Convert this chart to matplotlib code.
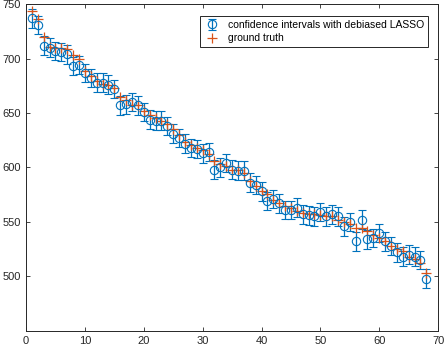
import matplotlib
matplotlib.use("Agg")
import matplotlib.pyplot as plt

plt.rcParams['font.family'] = ['Liberation Sans', 'DejaVu Sans']

x_index = list(range(1, 69))
estimate = [737, 731, 712, 710, 707, 706, 704, 693, 694, 687,
            682, 678, 678, 676, 672, 657, 658, 660, 657, 651,
            644, 643, 643, 638, 631, 627, 622, 618, 617, 613,
            614, 598, 600, 604, 598, 597, 597, 586, 584, 578,
            569, 571, 567, 561, 561, 563, 557, 556, 555, 559,
            555, 557, 555, 546, 550, 532, 552, 534, 535, 540,
            532, 528, 522, 518, 520, 518, 515, 498]
truth = [744, 736, 720, 711, 710, 710, 709, 703, 700, 689,
         684, 679, 677, 676, 673, 665, 662, 657, 657, 652,
         648, 645, 643, 640, 635, 630, 623, 621, 618, 616,
         612, 606, 603, 601, 598, 598, 595, 588, 583, 578,
         576, 570, 567, 565, 563, 560, 558, 557, 557, 556,
         555, 555, 552, 550, 548, 544, 544, 542, 538, 535,
         532, 528, 525, 523, 518, 516, 512, 503]
ci_half = [8.5] * 68

xticks = [0, 10, 20, 30, 40, 50, 60, 70]
yticks = [500, 550, 600, 650, 700, 750]

blue = '#0072BD'
orange = '#D95319'

fig = plt.figure(figsize=(4.48, 3.5), dpi=100)
ax = fig.add_axes([0.058, 0.055, 0.92, 0.933])

eb = ax.errorbar(x_index, estimate, yerr=ci_half, fmt='o', color=blue,
                 markerfacecolor='none', markersize=6, markeredgewidth=0.8,
                 elinewidth=0.9, capsize=3, capthick=0.9,
                 label='confidence intervals with debiased LASSO')
gt, = ax.plot(x_index, truth, '+', color=orange, markersize=7, markeredgewidth=0.9,
              label='ground truth')

ax.set_xlim(0, 70)
ax.set_ylim(450, 750)
ax.set_xticks(xticks)
ax.set_yticks(yticks)
ax.tick_params(direction='in', length=3, width=0.6, labelsize=8,
               top=True, right=True, colors='#262626', labelcolor='#262626')
for s in ax.spines.values():
    s.set_linewidth(0.7)
    s.set_color('#262626')

leg = ax.legend(handles=[eb, gt], loc='upper right', bbox_to_anchor=(0.988, 0.98),
                fontsize=7.5, frameon=True, fancybox=False, framealpha=1,
                edgecolor='#262626', borderpad=0.4, handlelength=1.4,
                handletextpad=0.8, labelspacing=0.3)
leg.get_frame().set_linewidth(0.7)

fig.savefig('out.png', dpi=100)
